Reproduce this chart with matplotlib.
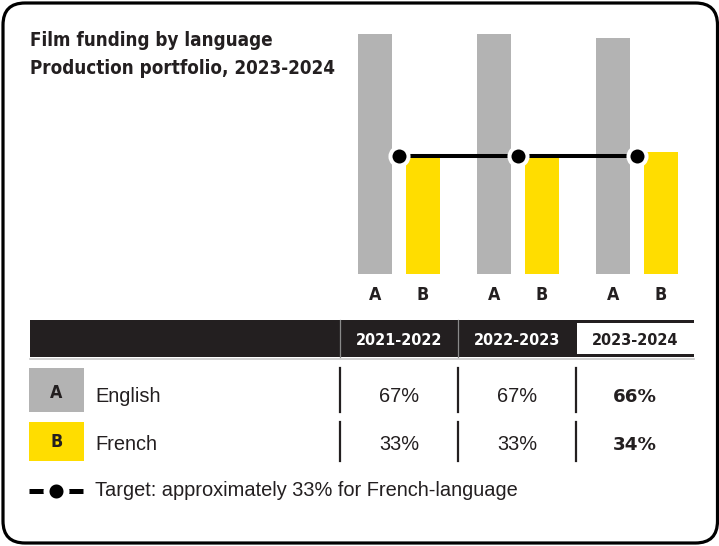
import matplotlib
matplotlib.use("Agg")
import matplotlib.pyplot as plt
import numpy as np
from matplotlib.patches import Rectangle, FancyBboxPatch
from matplotlib import font_manager as fm

# ---- data ----
years = ["2021-2022", "2022-2023", "2023-2024"]
english = [67, 67, 66]
french = [33, 33, 34]
target = 33
codes = ["A", "B"]
names = ["English", "French"]
title_lines = ["Film funding by language", "Production portfolio, 2023-2024"]
legend_text = "Target: approximately 33% for French-language"

# ---- style ----
GRAY = "#b3b3b3"
YELLOW = "#ffdd00"
DARK = "#231f20"


def condensed_bold():
    """Pick a narrow bold face if one is installed."""
    best = None
    for f in fm.fontManager.ttflist:
        fname = f.fname.lower()
        bold = f.weight in ("bold", 700, "heavy", 800) or "bold" in fname
        if not bold or "oblique" in fname or "italic" in fname:
            continue
        if f.name == "Liberation Sans Narrow":
            return f.fname, 1.0
        if "condensed" in fname or f.stretch in ("condensed", "semi-condensed"):
            best = best or (f.fname, 0.95)
    return best


_cb = condensed_bold()
if _cb:
    COND_KW = dict(fontproperties=fm.FontProperties(fname=_cb[0]))
    COND_SCALE = _cb[1]
else:
    COND_KW = dict(family=["Roboto", "DejaVu Sans"], weight="bold")
    COND_SCALE = 0.85


def cond(size):
    kw = dict(COND_KW)
    if "fontproperties" in kw:
        fp = kw["fontproperties"].copy()
        fp.set_size(size * COND_SCALE)
        return dict(fontproperties=fp)
    kw["fontsize"] = size * COND_SCALE
    return kw


BODY = ["Liberation Sans", "DejaVu Sans"]
BOLD = ["DejaVu Sans"]

W, H = 719, 546
fig = plt.figure(figsize=(W / 100, H / 100), dpi=100, facecolor="white")

# layout layer in pixel units
lay = fig.add_axes([0, 0, 1, 1], zorder=0)
lay.set_xlim(0, W)
lay.set_ylim(H, 0)
lay.axis("off")

# rounded frame
lay.add_patch(FancyBboxPatch((3, 3), 714.5, 540, boxstyle="round,pad=0,rounding_size=22",
                             lw=2.3, ec="black", fc="none", clip_on=False))

# title
for i, line in enumerate(title_lines):
    lay.text(30, 46 + 28 * i, line, color=DARK, va="baseline", ha="left", **cond(14.2))

# ---- bar chart ----
ax = fig.add_axes([339.5 / W, (H - 274) / H, 357 / W, 250.6 / H], zorder=1)
ax.set_facecolor("none")
x = np.arange(len(years))
off, bw = 0.2017, 0.2857
ax.bar(x - off, english, bw, color=GRAY, zorder=1)
ax.bar(x + off, french, bw, color=YELLOW, zorder=1)
ax.plot(x, [target] * len(x), color="black", lw=2.9, marker="o", ms=13,
        mfc="black", mec="white", mew=2.9, zorder=3, clip_on=False)
ax.set_xlim(-0.5, len(years) - 0.5)
ax.set_ylim(0, 70)
ax.set_xticks(np.concatenate([x - off, x + off]))
ax.set_xticklabels([])
ax.tick_params(axis="x", length=0)
for xi in x:
    for pos, code in ((xi - off, codes[0]), (xi + off, codes[1])):
        ax.text(pos, -26 / 3.58, code, color=DARK, ha="center", va="baseline",
                transform=ax.transData, clip_on=False, **cond(13.5))
ax.set_yticks([])
for s in ax.spines.values():
    s.set_visible(False)

# ---- table ----
col_edges = [340, 458, 576, 694]
col_centers = [(col_edges[i] + col_edges[i + 1]) / 2 for i in range(3)]

lay.add_patch(Rectangle((30, 320), 664, 37, color=DARK, lw=0))
lay.add_patch(Rectangle((577, 323), 117, 31, color="white", lw=0))
lay.plot([30, 694], [358.5, 358.5], color="#c8c8c8", lw=1.2)
for xe in col_edges[:2]:
    lay.plot([xe, xe], [320, 357], color="#8a8a8a", lw=0.9)
for i, yr in enumerate(years):
    last = i == len(years) - 1
    lay.text(col_centers[i], 345, yr, color=DARK if last else "white",
             ha="center", va="baseline", **cond(12.2))

rows = [(english, GRAY, 368, 412, 401.5), (french, YELLOW, 422, 461, 450)]
for r, (vals, col, top, bot, base) in enumerate(rows):
    lay.add_patch(Rectangle((29, top), 55, bot - top, color=col, lw=0))
    lay.text(56.5, base - 3, codes[r], color=DARK, ha="center", va="baseline", **cond(13.5))
    lay.text(95, base, names[r], family=BODY, fontsize=14.4, color=DARK,
             ha="left", va="baseline")
    for xe in col_edges[:3]:
        lay.plot([xe, xe], [top, bot], color=DARK, lw=1.6)
    for i, v in enumerate(vals):
        last = i == len(vals) - 1
        lay.text(col_centers[i], base, f"{v}%",
                 family=BOLD if last else BODY, weight="bold" if last else "normal",
                 fontsize=13.2 if last else 14.4, color=DARK, ha="center", va="baseline")

# ---- legend ----
lay.plot([29, 83], [490.5, 490.5], color="black", lw=3.6, solid_capstyle="butt")
lay.plot([56], [490.5], marker="o", ms=14.4, mfc="black", mec="white", mew=4.3)
lay.text(95, 496.5, legend_text, family=BODY, fontsize=14.4, color=DARK,
         ha="left", va="baseline")

fig.savefig("out.png", dpi=100, facecolor="white")
